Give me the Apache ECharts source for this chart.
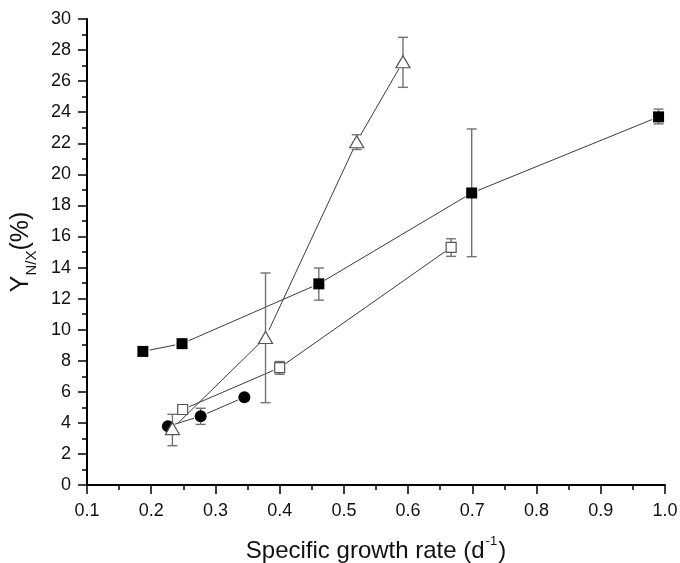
<!DOCTYPE html>
<html>
<head>
<meta charset="utf-8">
<script src="https://cdn.jsdelivr.net/npm/echarts@6/dist/echarts.min.js"></script>
<style>
  html, body { margin: 0; padding: 0; background: #fff; }
  #chart { width: 680px; height: 563px; }
</style>
</head>
<body>
<div id="chart"></div>
<script>
// Specific growth rate (d^-1) vs nitrogen yield Y_N/X (%)

// Filled squares
const sqFilledX = [0.187, 0.248, 0.461, 0.699, 0.990];
const sqFilledY = [8.6, 9.1, 12.95, 18.8, 23.7];
const sqFilledLo = [null, null, 11.9, 14.7, 23.25];
const sqFilledHi = [null, null, 13.97, 22.92, 24.2];

// Open triangles
const triX = [0.233, 0.378, 0.520, 0.592];
const triY = [3.63, 9.5, 22.1, 27.25];
const triLo = [2.53, 5.3, 21.6, 25.6];
const triHi = [4.55, 13.65, 22.55, 28.82];

// Open squares
const sqOpenX = [0.249, 0.400, 0.667];
const sqOpenY = [4.86, 7.55, 15.3];
const sqOpenLo = [4.66, 7.13, 14.72];
const sqOpenHi = [5.06, 7.95, 15.85];

// Filled circles
const circX = [0.226, 0.277, 0.345];
const circY = [3.78, 4.43, 5.65];
const circLo = [null, 3.9, null];
const circHi = [null, 4.94, null];

const xTicks = [0.1, 0.2, 0.3, 0.4, 0.5, 0.6, 0.7, 0.8, 0.9, 1.0];
const yTicks = [0, 2, 4, 6, 8, 10, 12, 14, 16, 18, 20, 22, 24, 26, 28, 30];

const LINE_COLOR = '#3c3c3c';
const BAR_COLOR = '#727272';
const OPEN_EDGE = '#555555';
const FONT = 'Liberation Sans, Arial, sans-serif';

function pairs(xs, ys) {
  return xs.map((x, i) => [x, ys[i]]);
}
function segments(xs, ys) {
  const out = [];
  for (let i = 0; i < xs.length - 1; i++) out.push([xs[i], ys[i], xs[i + 1], ys[i + 1]]);
  return out;
}
function errRows(xs, lo, hi) {
  const out = [];
  xs.forEach((x, i) => { if (lo[i] != null) out.push([x, lo[i], hi[i]]); });
  return out;
}

// Connecting segments, trimmed near each marker
function segmentSeries(xs, ys, gap) {
  return {
    type: 'custom',
    z: 1,
    silent: true,
    data: segments(xs, ys),
    encode: { x: [0, 2], y: [1, 3] },
    renderItem: function (params, api) {
      const a = api.coord([api.value(0), api.value(1)]);
      const b = api.coord([api.value(2), api.value(3)]);
      const dx = b[0] - a[0], dy = b[1] - a[1];
      const len = Math.sqrt(dx * dx + dy * dy);
      if (len <= 2 * gap) return null;
      const ux = dx / len, uy = dy / len;
      return {
        type: 'line',
        shape: { x1: a[0] + ux * gap, y1: a[1] + uy * gap, x2: b[0] - ux * gap, y2: b[1] - uy * gap },
        style: { stroke: LINE_COLOR, lineWidth: 1 }
      };
    }
  };
}

// Vertical error bars with caps
function errorSeries(xs, lo, hi) {
  return {
    type: 'custom',
    z: 2,
    silent: true,
    data: errRows(xs, lo, hi),
    encode: { x: 0, y: [1, 2] },
    renderItem: function (params, api) {
      const top = api.coord([api.value(0), api.value(2)]);
      const bot = api.coord([api.value(0), api.value(1)]);
      const hw = 5;
      const st = { stroke: BAR_COLOR, lineWidth: 1.4 };
      return {
        type: 'group',
        children: [
          { type: 'line', shape: { x1: top[0], y1: top[1], x2: bot[0], y2: bot[1] }, style: st },
          { type: 'line', shape: { x1: top[0] - hw, y1: top[1], x2: top[0] + hw, y2: top[1] }, style: st },
          { type: 'line', shape: { x1: bot[0] - hw, y1: bot[1], x2: bot[0] + hw, y2: bot[1] }, style: st }
        ]
      };
    }
  };
}

function markerSeries(xs, ys, symbol, size, filled) {
  return {
    type: 'scatter',
    z: 3,
    silent: true,
    data: pairs(xs, ys),
    symbol: symbol,
    symbolSize: size,
    itemStyle: filled
      ? { color: '#000', borderWidth: 0, opacity: 1 }
      : { color: '#fff', borderColor: OPEN_EDGE, borderWidth: 1.2, opacity: 1 }
  };
}

const chart = echarts.init(document.getElementById('chart'), null, { renderer: 'canvas' });

chart.setOption({
  backgroundColor: '#fff',
  animation: false,
  grid: { left: 87, right: 15, top: 19, bottom: 78, containLabel: false, outerBoundsMode: 'none' },
  xAxis: {
    type: 'value',
    min: xTicks[0],
    max: xTicks[xTicks.length - 1],
    interval: 0.1,
    name: '{a|Specific growth rate (d}{s|-1}{a|)}',
    nameLocation: 'middle',
    nameGap: 50,
    nameTextStyle: {
      rich: {
        a: { fontSize: 24, fontFamily: FONT, color: '#111', lineHeight: 28, verticalAlign: 'bottom' },
        s: { fontSize: 13, fontFamily: FONT, color: '#111', lineHeight: 13, padding: [0, 1, 15, 1], verticalAlign: 'bottom' }
      }
    },
    axisLine: { show: true, onZero: false, lineStyle: { color: '#000', width: 2 } },
    axisTick: { show: true, inside: false, length: 9, lineStyle: { color: '#000', width: 1.5 } },
    minorTick: { show: true, splitNumber: 2, length: 5, lineStyle: { color: '#000', width: 1.5 } },
    splitLine: { show: false },
    axisLabel: {
      margin: 17,
      fontSize: 18,
      fontFamily: FONT,
      color: '#111',
      formatter: v => v.toFixed(1)
    }
  },
  yAxis: {
    type: 'value',
    min: yTicks[0],
    max: yTicks[yTicks.length - 1],
    interval: 2,
    name: '{a|Y}{s|N/X}{a|(%)}',
    nameLocation: 'middle',
    nameRotate: 90,
    nameGap: 48,
    nameTextStyle: {
      rich: {
        a: { fontSize: 25, fontFamily: FONT, color: '#111', lineHeight: 30, verticalAlign: 'top' },
        s: { fontSize: 15, fontFamily: FONT, color: '#111', lineHeight: 15, padding: [20, 0, 0, 0], verticalAlign: 'bottom' }
      }
    },
    axisLine: { show: true, onZero: false, lineStyle: { color: '#000', width: 2 } },
    axisTick: { show: true, inside: false, length: 9, lineStyle: { color: '#000', width: 1.5 } },
    minorTick: { show: true, splitNumber: 2, length: 5, lineStyle: { color: '#000', width: 1.5 } },
    splitLine: { show: false },
    axisLabel: {
      margin: 16,
      fontSize: 18,
      fontFamily: FONT,
      color: '#111'
    }
  },
  series: [
    segmentSeries(sqFilledX, sqFilledY, 7),
    segmentSeries(triX, triY, 8),
    segmentSeries(sqOpenX, sqOpenY, 7),
    segmentSeries(circX, circY, 7),
    errorSeries(sqFilledX, sqFilledLo, sqFilledHi),
    errorSeries(triX, triLo, triHi),
    errorSeries(sqOpenX, sqOpenLo, sqOpenHi),
    errorSeries(circX, circLo, circHi),
    markerSeries(sqFilledX, sqFilledY, 'rect', 11, true),
    markerSeries(sqOpenX, sqOpenY, 'rect', 10, false),
    markerSeries(circX, circY, 'circle', 12, true),
    markerSeries(triX, triY, 'triangle', [14, 12], false)
  ]
});
</script>
</body>
</html>
